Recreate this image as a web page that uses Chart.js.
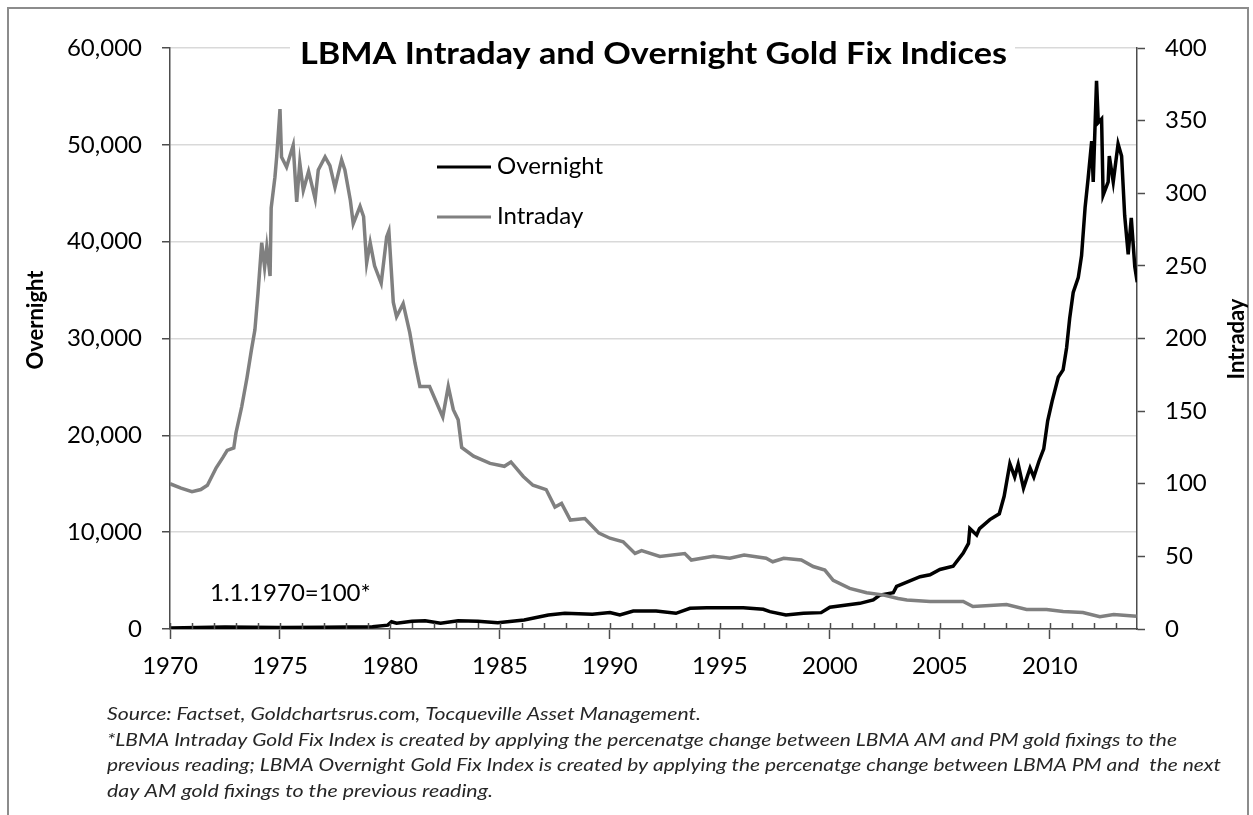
<!DOCTYPE html>
<html>
<head>
<meta charset="utf-8">
<title>LBMA Intraday and Overnight Gold Fix Indices</title>
<script src="https://cdn.jsdelivr.net/npm/chart.js@4.4.1/dist/chart.umd.min.js"></script>
<style>
  html, body { margin: 0; padding: 0; background: #fff; }
  #wrap { position: relative; width: 1253px; height: 815px; }
</style>
</head>
<body>
<div id="wrap"><canvas id="goldChart"></canvas></div>
<script>
// ── Data ──
// Intraday index (right axis), 1.1.1970 = 100
const intradayYears = [
  1970.0, 1970.5, 1971.0, 1971.4, 1971.7, 1972.1, 1972.4, 1972.6, 1972.9, 1973.0,
  1973.26, 1973.5, 1973.7, 1973.86, 1974.0, 1974.17, 1974.3, 1974.4, 1974.55, 1974.6,
  1974.77, 1974.85, 1975.0, 1975.07, 1975.3, 1975.6, 1975.76, 1975.9, 1976.06, 1976.3,
  1976.6, 1976.74, 1977.05, 1977.27, 1977.5, 1977.8, 1977.95, 1978.2, 1978.33, 1978.64,
  1978.8, 1978.94, 1979.1, 1979.3, 1979.6, 1979.85, 1979.95, 1980.15, 1980.3, 1980.6,
  1980.9, 1981.14, 1981.36, 1981.8, 1982.4, 1982.65, 1982.88, 1983.1, 1983.26, 1983.8,
  1984.55, 1985.2, 1985.5, 1986.06, 1986.5, 1987.1, 1987.5, 1987.8, 1988.2, 1988.86,
  1989.5, 1990.0, 1990.6, 1991.14, 1991.44, 1992.27, 1993.4, 1993.7, 1994.7, 1995.45,
  1996.1, 1997.1, 1997.4, 1997.9, 1998.7, 1999.24, 1999.77, 2000.15, 2000.9, 2001.67,
  2002.4, 2003.1, 2003.5, 2004.55, 2006.06, 2006.5, 2008.03, 2008.94, 2009.85, 2010.6,
  2011.5, 2012.27, 2012.9, 2013.94
];
const intradayValues = [
  100, 97, 94.5, 96, 99, 111, 118, 123, 124.6, 135,
  153, 173, 192, 206, 231, 266, 249, 263, 243, 290,
  311, 325, 358, 325, 318, 333, 294, 321, 302, 315,
  296, 316, 325, 319, 304, 323, 316, 295, 279, 291,
  284, 252, 266, 250, 238, 270, 274, 225, 215, 224,
  204, 183, 167, 167, 146, 167, 151, 144, 125, 119,
  114, 112, 115, 105, 99, 96, 84, 86.5, 75, 76,
  66, 62.5, 60, 52, 54, 50, 52, 47.5, 50, 48.7,
  51, 48.7, 46.3, 48.7, 47.5, 43, 40.6, 33.5, 28, 25,
  23.5, 21, 20, 19, 19, 15.5, 16.8, 13.5, 13.5, 12,
  11.3, 8.5, 10, 8.8
];

// Overnight index (left axis), 1.1.1970 = 100
const overnightYears = [
  1970.0, 1972.5, 1975.0, 1977.0, 1979.2, 1979.9, 1980.07, 1980.3, 1981.0, 1981.6,
  1982.3, 1983.1, 1984.0, 1984.9, 1986.1, 1987.2, 1987.95, 1989.2, 1990.0, 1990.45,
  1991.06, 1992.1, 1993.0, 1993.64, 1994.4, 1996.06, 1996.97, 1997.27, 1998.0, 1998.8,
  1999.6, 2000.0, 2000.76, 2001.36, 2001.97, 2002.27, 2002.88, 2003.03, 2004.1, 2004.55,
  2005.0, 2005.6, 2006.06, 2006.3, 2006.36, 2006.67, 2006.8, 2007.27, 2007.7, 2007.92,
  2008.18, 2008.4, 2008.56, 2008.8, 2009.1, 2009.27, 2009.5, 2009.72, 2009.9, 2010.1,
  2010.38, 2010.6, 2010.76, 2010.9, 2011.06, 2011.29, 2011.44, 2011.6, 2011.74, 2011.9,
  2011.97, 2012.12, 2012.2, 2012.35, 2012.42, 2012.65, 2012.7, 2012.88, 2013.1, 2013.26,
  2013.4, 2013.56, 2013.7, 2013.86, 2013.97
];
const overnightValues = [
  100, 200, 150, 180, 240, 400, 750, 590, 800, 860,
  590, 860, 800, 650, 930, 1450, 1620, 1520, 1700, 1450,
  1860, 1860, 1620, 2140, 2200, 2200, 2030, 1790, 1450, 1620,
  1690, 2250, 2480, 2650, 3000, 3500, 3750, 4400, 5400, 5600,
  6150, 6480, 7850, 8840, 10370, 9700, 10370, 11300, 11900, 13700,
  17070, 15700, 17020, 14550, 16630, 15700, 17300, 18600, 21500, 23500,
  26000, 26750, 29040, 32090, 34750, 36280, 38560, 43520, 46570, 50380,
  46180, 56600, 52300, 52670, 44800, 46180, 48850, 46180, 50100, 48850,
  42700, 38700, 42450, 37400, 35800
];

const xTickYears = [1970, 1975, 1980, 1985, 1990, 1995, 2000, 2005, 2010];

const chartTitle = 'LBMA Intraday and Overnight Gold Fix Indices';
const baseNote = '1.1.1970=100*';
const footnotes = [
  'Source: Factset, Goldchartsrus.com, Tocqueville Asset Management.',
  '*LBMA Intraday Gold Fix Index is created by applying the percenatge change between LBMA AM and PM gold fixings to the',
  'previous reading; LBMA Overnight Gold Fix Index is created by applying the percenatge change between LBMA PM and  the next',
  'day AM gold fixings to the previous reading.'
];

// ── Styling ──
const FONT = "Lato, 'Open Sans', sans-serif";
const axisColor = '#4d4d4d';
const gridColor = '#d9d9d9';
const overnightColor = '#000000';
const intradayColor = '#808080';

const toPoints = (xs, ys) => xs.map((x, i) => ({ x: x, y: ys[i] }));

// draw text stretched/condensed horizontally to a given width
function fitText(ctx, text, x, y, width) {
  const w = ctx.measureText(text).width;
  ctx.save();
  ctx.translate(x, y);
  ctx.scale(width / w, 1);
  ctx.fillText(text, 0, 0);
  ctx.restore();
}

// extra drawing: frame, title, legend, axis titles, minor ticks, footnotes
const decorPlugin = {
  id: 'decor',
  afterDraw(chart) {
    const ctx = chart.ctx;
    const xs = chart.scales.x;
    const area = chart.chartArea;
    ctx.save();

    // minor year ticks pointing into the plot
    ctx.strokeStyle = axisColor;
    ctx.lineWidth = 1.5;
    for (let yr = 1970; yr <= 2013; yr++) {
      const px = Math.round(xs.getPixelForValue(yr)) + 0.5;
      ctx.beginPath();
      ctx.moveTo(px, area.bottom);
      ctx.lineTo(px, area.bottom - 6);
      ctx.stroke();
    }

    // outer frame
    ctx.strokeStyle = '#8c8c8c';
    ctx.lineWidth = 2;
    ctx.strokeRect(8, 8, 1240, 820);

    // title with white box over the top gridline
    ctx.fillStyle = '#fff';
    ctx.fillRect(290, 30, 725, 40);
    ctx.font = 'bold 30px ' + FONT;
    ctx.fillStyle = '#000';
    ctx.textAlign = 'left';
    ctx.textBaseline = 'alphabetic';
    fitText(ctx, chartTitle, 300, 64, 707);

    // legend
    ctx.lineWidth = 3;
    ctx.strokeStyle = overnightColor;
    ctx.beginPath(); ctx.moveTo(437, 167); ctx.lineTo(491, 167); ctx.stroke();
    ctx.strokeStyle = intradayColor;
    ctx.beginPath(); ctx.moveTo(437, 217); ctx.lineTo(491, 217); ctx.stroke();
    ctx.font = '24px ' + FONT;
    ctx.fillStyle = '#000';
    ctx.textAlign = 'left';
    ctx.textBaseline = 'middle';
    ctx.fillText('Overnight', 497, 166);
    ctx.fillText('Intraday', 497, 216);

    // base note
    ctx.textBaseline = 'alphabetic';
    ctx.fillText(baseNote, 210, 601);

    // axis titles
    ctx.font = 'bold 22px ' + FONT;
    ctx.textAlign = 'center';
    ctx.save();
    ctx.translate(43, 320);
    ctx.rotate(-Math.PI / 2);
    ctx.fillText('Overnight', 0, 0);
    ctx.restore();
    ctx.save();
    ctx.translate(1244, 339);
    ctx.rotate(-Math.PI / 2);
    ctx.fillText('Intraday', 0, 0);
    ctx.restore();

    // footnotes
    ctx.font = 'italic 18px ' + FONT;
    ctx.fillStyle = '#262626';
    ctx.textAlign = 'left';
    const noteWidths = [594, 1070, 1114, 386];
    footnotes.forEach((line, i) => {
      fitText(ctx, line, 107, 720 + i * 25.5, noteWidths[i]);
    });

    ctx.restore();
  }
};

const ctx = document.getElementById('goldChart').getContext('2d');
new Chart(ctx, {
  type: 'line',
  data: {
    datasets: [
      {
        label: 'Intraday',
        data: toPoints(intradayYears, intradayValues),
        yAxisID: 'y1',
        borderColor: intradayColor,
        borderWidth: 3.5,
        pointRadius: 0,
        tension: 0,
        fill: false
      },
      {
        label: 'Overnight',
        data: toPoints(overnightYears, overnightValues),
        yAxisID: 'y',
        borderColor: overnightColor,
        borderWidth: 3.5,
        pointRadius: 0,
        tension: 0,
        fill: false
      }
    ]
  },
  options: {
    responsive: true,
    maintainAspectRatio: false,
    animation: false,
    events: [],
    layout: { padding: { top: 48, left: 0, right: 0, bottom: 0 } },
    plugins: {
      legend: { display: false },
      title: { display: false },
      tooltip: { enabled: false }
    },
    scales: {
      x: {
        type: 'linear',
        min: 1970,
        max: 2013.96,
        grid: { drawOnChartArea: false, drawTicks: true, tickLength: 10, tickColor: axisColor, tickWidth: 1.5 },
        border: { color: axisColor, width: 1.5 },
        ticks: {
          padding: 13,
          color: '#000',
          maxRotation: 0,
          autoSkip: false,
          font: { family: FONT, size: 24 },
          callback: (value) => String(value)
        },
        afterBuildTicks: (scale) => { scale.ticks = xTickYears.map(v => ({ value: v })); },
        afterFit: (scale) => { scale.height = 186; }
      },
      y: {
        position: 'left',
        min: 0,
        max: 60000,
        grid: { color: gridColor, lineWidth: 1.5, tickLength: 8, tickColor: axisColor, tickWidth: 1.5 },
        border: { color: axisColor, width: 1.5 },
        ticks: {
          stepSize: 10000,
          padding: 20,
          color: '#000',
          font: { family: FONT, size: 24 },
          callback: (value) => value.toLocaleString('en-US')
        },
        afterFit: (scale) => { scale.width = 170; }
      },
      y1: {
        position: 'right',
        min: 0,
        max: 400,
        grid: { drawOnChartArea: false, tickLength: 8, tickColor: axisColor, tickWidth: 1.5 },
        border: { color: axisColor, width: 1.5 },
        ticks: {
          stepSize: 50,
          padding: 20,
          color: '#000',
          font: { family: FONT, size: 24 },
          callback: (value) => String(value)
        },
        afterFit: (scale) => { scale.width = 116; }
      }
    }
  },
  plugins: [decorPlugin]
});
</script>
</body>
</html>
